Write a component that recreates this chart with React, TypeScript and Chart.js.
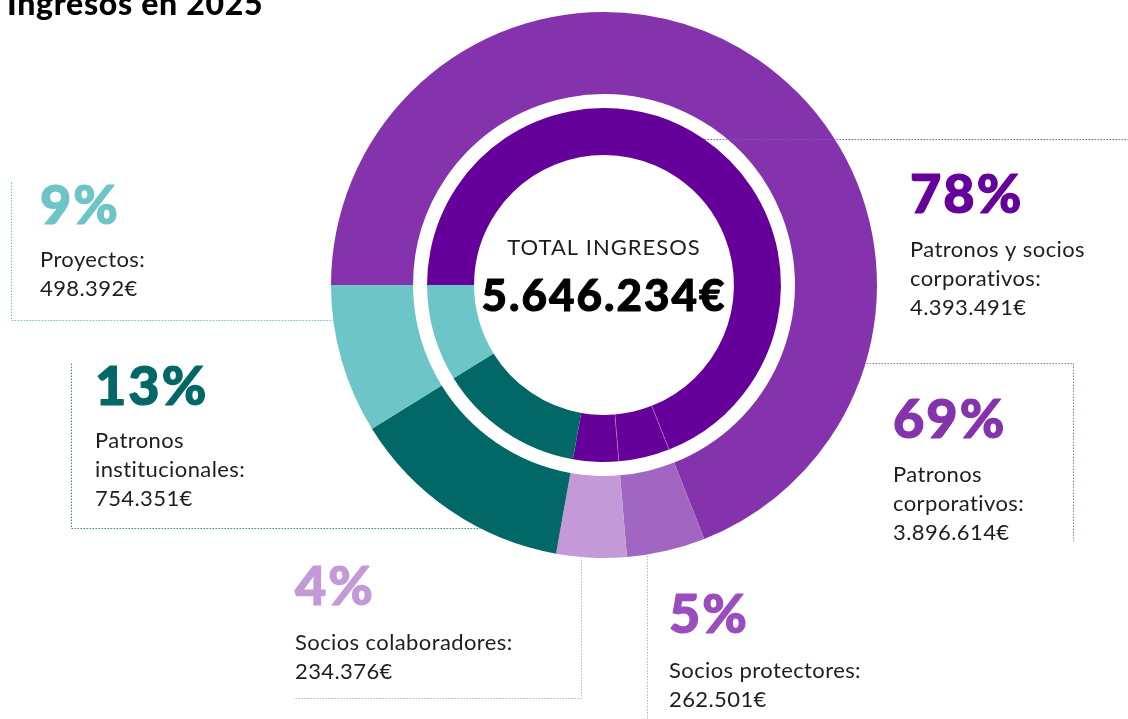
import React, { useEffect, useRef } from "react";
import { Chart, registerables } from "chart.js";

Chart.register(...registerables);

// ---------- DATA ----------
const titleText = "Ingresos en 2025";
const centerLabel = "TOTAL INGRESOS";
const segmentLabels = [
  "Patronos corporativos",
  "Socios protectores",
  "Socios colaboradores",
  "Patronos institucionales",
  "Proyectos",
];
const segmentValues = [3896614, 262501, 234376, 754351, 498392];
const outerColors = ["#8533AD", "#A066C2", "#C39AD7", "#026867", "#6DC5C7"];
const innerColors = ["#66009A", "#66009A", "#66009A", "#026867", "#6DC5C7"];
// indices of segments grouped as "Patronos y socios corporativos" in the inner ring
const corporateGroup = [0, 1, 2];
const corporateGroupLabel = ["Patronos y socios", "corporativos:"];

// ---------- helpers ----------
const fmt = (n: number) =>
  String(Math.round(n)).replace(/\B(?=(\d{3})+(?!\d))/g, ".") + "€";
const total = segmentValues.reduce((a, b) => a + b, 0);
const groupValue = corporateGroup.reduce((a, i) => a + segmentValues[i], 0);
const pct = (v: number) => Math.round((v / total) * 100) + "%";

// ---------- annotation layout ----------
interface Ann {
  pctText: string;
  pctColor: string;
  lineColor: string;
  x: number;
  pctBase: number;
  lines: string[];
  lineBase: number;
  path: any[];
}
const annotations: Ann[] = [
  {
    pctText: pct(segmentValues[4]),
    pctColor: "#6DC5C7",
    lineColor: "#6DC5C7",
    x: 40,
    pctBase: 224,
    lines: [segmentLabels[4] + ":", fmt(segmentValues[4])],
    lineBase: 267,
    path: [[11, 182], [11, 320], ["edgeL", 320]],
  },
  {
    pctText: pct(segmentValues[3]),
    pctColor: "#026867",
    lineColor: "#3b8a89",
    x: 95,
    pctBase: 405,
    lines: ["Patronos", "institucionales:", fmt(segmentValues[3])],
    lineBase: 448,
    path: [[71, 363], [71, 528], ["edgeL", 528]],
  },
  {
    pctText: pct(segmentValues[2]),
    pctColor: "#C39AD7",
    lineColor: "#C9A3DB",
    x: 295,
    pctBase: 605,
    lines: [segmentLabels[2] + ":", fmt(segmentValues[2])],
    lineBase: 650,
    path: [[295, 698], [581, 698], [581, "edgeB"]],
  },
  {
    pctText: pct(segmentValues[1]),
    pctColor: "#9A4DBE",
    lineColor: "#C9A3DB",
    x: 669,
    pctBase: 633,
    lines: [segmentLabels[1] + ":", fmt(segmentValues[1])],
    lineBase: 678,
    path: [[647, 719], [647, "edgeB"]],
  },
  {
    pctText: pct(segmentValues[0]),
    pctColor: "#8533AD",
    lineColor: "#A066C2",
    x: 893,
    pctBase: 438,
    lines: ["Patronos", "corporativos:", fmt(segmentValues[0])],
    lineBase: 482,
    path: [["edgeR", 363], [1073, 363], [1073, 541]],
  },
  {
    pctText: pct(groupValue),
    pctColor: "#66009A",
    lineColor: "#8a4fb5",
    x: 910,
    pctBase: 213,
    lines: [...corporateGroupLabel, fmt(groupValue)],
    lineBase: 257,
    path: [["innerR", 139], [1128, 139]],
  },
];

const PCT_FONT = "900 54px Lato, 'DejaVu Sans', sans-serif";
const BODY_FONT = "400 22px Lato, 'DejaVu Sans', sans-serif";
const LINE_H = 28.8;

const overlayPlugin = {
  id: "overlay",
  afterDatasetsDraw(chart: any) {
    const ctx: any = chart.ctx;
    const outerMeta = chart.getDatasetMeta(0);
    const innerMeta = chart.getDatasetMeta(2);
    const a0 = outerMeta.data[0];
    const cx = a0.x;
    const cy = a0.y;
    const R = a0.outerRadius;
    const innerArc = innerMeta.data[0];
    const Ri = innerArc.outerRadius;

    ctx.save();
    // faint separators in the inner ring between grouped segments
    ctx.strokeStyle = "rgba(255,255,255,0.28)";
    ctx.lineWidth = 1;
    for (let k = 1; k < corporateGroup.length; k++) {
      const arc = innerMeta.data[corporateGroup[k]];
      const ang = arc.startAngle;
      ctx.beginPath();
      ctx.moveTo(cx + Math.cos(ang) * arc.innerRadius, cy + Math.sin(ang) * arc.innerRadius);
      ctx.lineTo(cx + Math.cos(ang) * arc.outerRadius, cy + Math.sin(ang) * arc.outerRadius);
      ctx.stroke();
    }

    const resolve = (p: any): [number, number] => {
      const [a, b] = p;
      if (a === "edgeL") return [cx - Math.sqrt(R * R - (b - cy) ** 2), b];
      if (a === "edgeR") return [cx + Math.sqrt(R * R - (b - cy) ** 2), b];
      if (a === "innerR") return [cx + Math.sqrt(Ri * Ri - (b - cy) ** 2), b];
      if (b === "edgeB") return [a, cy + Math.sqrt(R * R - (a - cx) ** 2)];
      return [a, b];
    };

    // dotted connector lines
    ctx.lineWidth = 1;
    ctx.setLineDash([1.5, 1.5]);
    for (const an of annotations) {
      ctx.strokeStyle = an.lineColor;
      ctx.beginPath();
      an.path.forEach((p, i) => {
        const [x, y] = resolve(p);
        const xx = Math.round(x) + 0.5;
        const yy = Math.round(y) + 0.5;
        if (i === 0) ctx.moveTo(xx, yy);
        else ctx.lineTo(xx, yy);
      });
      ctx.stroke();
    }
    ctx.setLineDash([]);

    // annotation texts
    ctx.textAlign = "left";
    ctx.textBaseline = "alphabetic";
    ctx.lineJoin = "round";
    for (const an of annotations) {
      ctx.fillStyle = an.pctColor;
      ctx.strokeStyle = an.pctColor;
      ctx.lineWidth = 1.2;
      ctx.font = PCT_FONT;
      ctx.letterSpacing = "2px";
      ctx.fillText(an.pctText, an.x, an.pctBase);
      ctx.strokeText(an.pctText, an.x, an.pctBase);
      ctx.fillStyle = "#1e1e1e";
      ctx.font = BODY_FONT;
      ctx.letterSpacing = "0.4px";
      an.lines.forEach((t, i) => ctx.fillText(t, an.x, an.lineBase + i * LINE_H));
    }

    // center text
    ctx.textAlign = "center";
    ctx.fillStyle = "#1e1e1e";
    ctx.font = "400 22px Lato, 'DejaVu Sans', sans-serif";
    ctx.letterSpacing = "1px";
    ctx.fillText(centerLabel, cx, 255);
    ctx.fillStyle = "#000";
    ctx.strokeStyle = "#000";
    ctx.lineWidth = 1;
    ctx.font = "900 44px Lato, 'DejaVu Sans', sans-serif";
    ctx.letterSpacing = "2px";
    ctx.fillText(fmt(total), cx, 311);
    ctx.strokeText(fmt(total), cx, 311);

    // title
    ctx.textAlign = "left";
    ctx.font = "900 32px Lato, 'DejaVu Sans', sans-serif";
    ctx.letterSpacing = "0.7px";
    ctx.fillText(titleText, 7, 15);
    ctx.letterSpacing = "0px";
    ctx.restore();
  },
};

export default function App() {
  const canvasRef = useRef<HTMLCanvasElement | null>(null);

  useEffect(() => {
    const canvas = canvasRef.current;
    if (!canvas) return;
    const chart = new Chart(canvas, {
      type: "doughnut",
      data: {
        labels: segmentLabels,
        datasets: [
          {
            data: segmentValues,
            backgroundColor: outerColors,
            borderWidth: 0,
            weight: 82,
          } as any,
          {
            data: [1],
            backgroundColor: ["rgba(0,0,0,0)"],
            borderWidth: 0,
            weight: 14,
          } as any,
          {
            data: segmentValues,
            backgroundColor: innerColors,
            borderWidth: 0,
            weight: 47,
          } as any,
        ],
      },
      options: {
        responsive: false,
        maintainAspectRatio: false,
        animation: false,
        events: [],
        rotation: -90,
        cutout: "47.6%",
        layout: { padding: { left: 331, right: 251, top: 12, bottom: 161 } },
        plugins: {
          legend: { display: false },
          tooltip: { enabled: false },
          title: { display: false },
        },
      } as any,
      plugins: [overlayPlugin],
    });
    return () => chart.destroy();
  }, []);

  return (
    <div style={{ position: "absolute", left: 0, top: 0, width: 1128, height: 719, background: "#fff" }}>
      <canvas ref={canvasRef} width={1128} height={719} style={{ display: "block" }} />
    </div>
  );
}
